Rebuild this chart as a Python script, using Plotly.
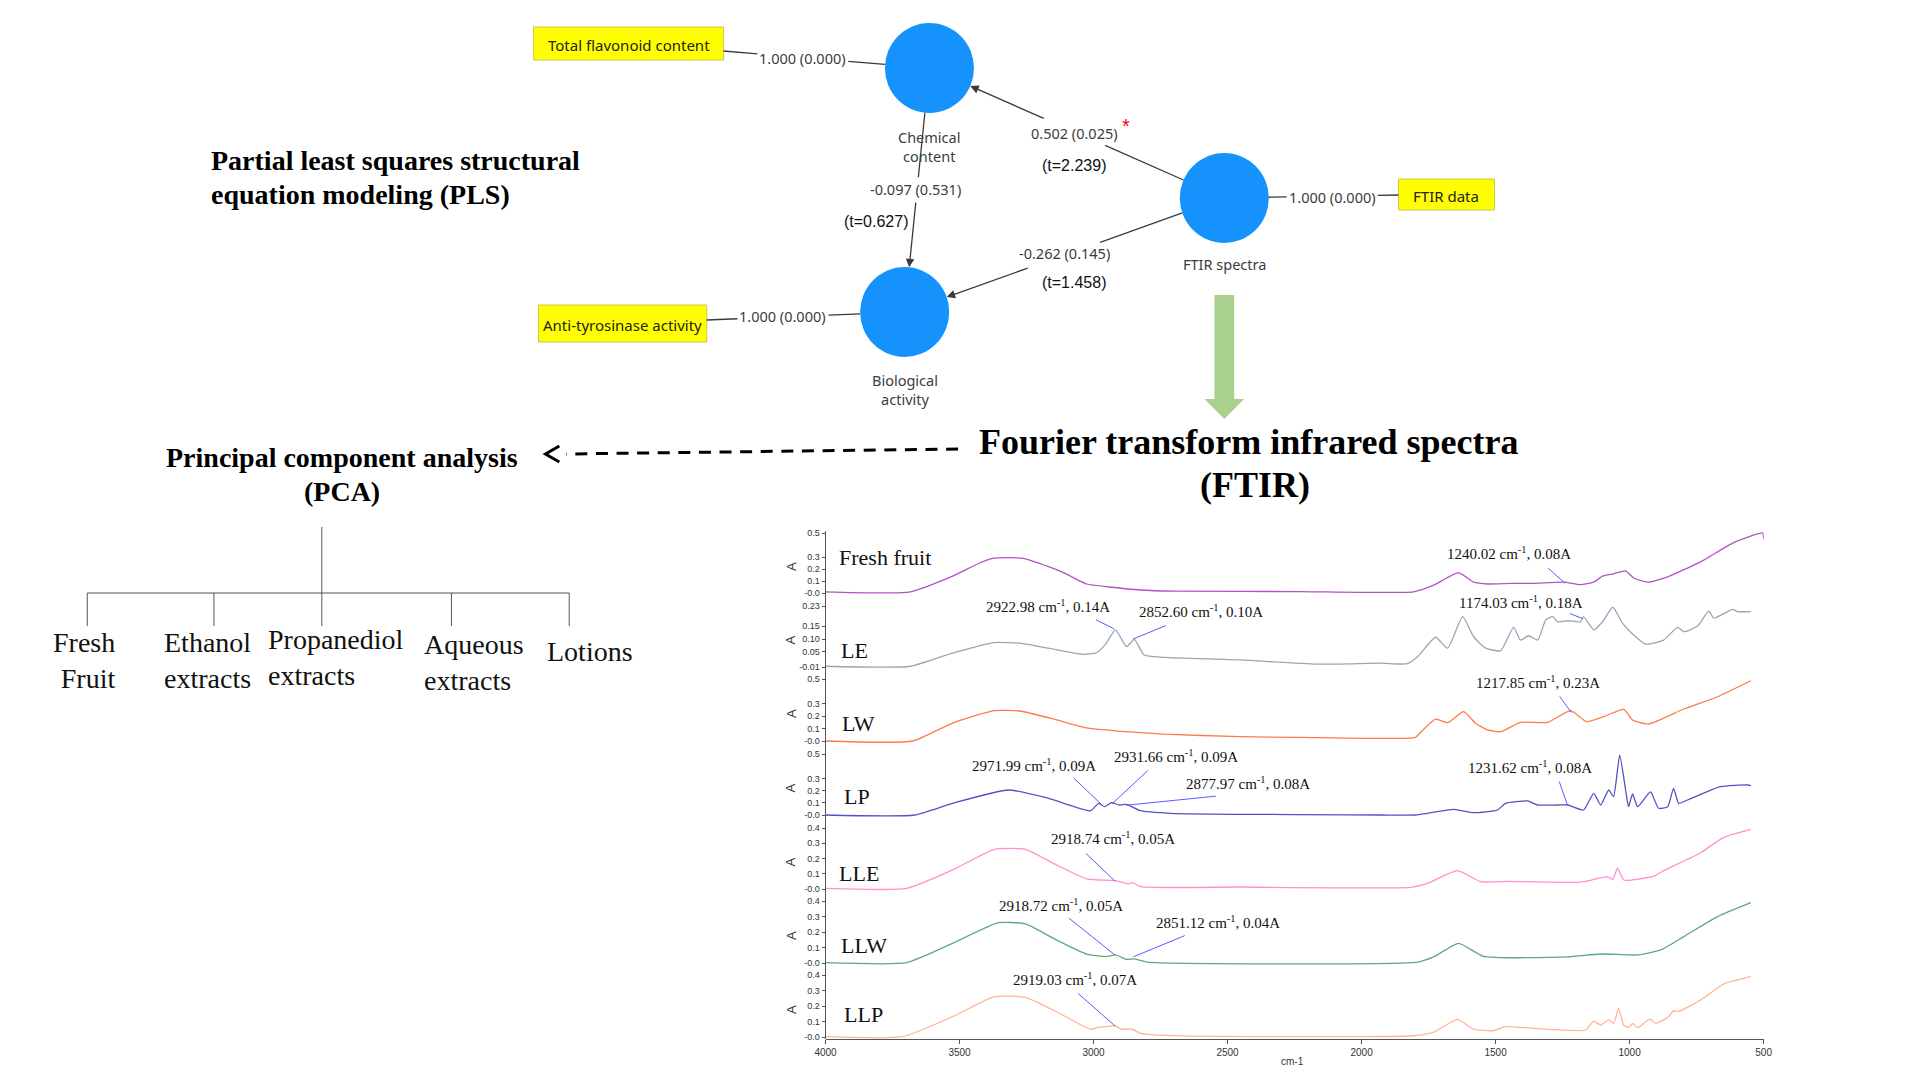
"""
PLS-SEM path model, PCA tree and stacked FTIR spectra
"""
import plotly.graph_objects as go

W, H = 1920, 1080

# ---------------- FTIR spectra (cm-1, absorbance A) ----------------
FRESH_FRUIT_WN = [4000, 3683, 3526, 3425, 3370, 3268, 3168, 3112, 3026, 2940, 2825, 2698, 2228, 1806,
                  1731, 1638, 1582, 1530, 1444, 1358, 1246, 1183, 1134, 1101, 1060, 1015, 985, 933,
                  858, 735, 612, 504, 500]
FRESH_FRUIT_A = [0.01, 0.01, 0.14, 0.25, 0.29, 0.29, 0.22, 0.17, 0.075, 0.05, 0.025, 0.015, 0.012, 0.01,
                 0.065, 0.17, 0.09, 0.075, 0.08, 0.08, 0.09, 0.07, 0.09, 0.14, 0.16, 0.185, 0.125, 0.09,
                 0.135, 0.26, 0.42, 0.5, 0.45]

LE_WN = [4000, 3683, 3526, 3370, 3269, 3168, 3041, 2989, 2955, 2918, 2877, 2848, 2811, 2739, 2455,
         2168, 1929, 1829, 1791, 1724, 1679, 1623, 1582, 1537, 1481, 1433, 1407, 1377, 1343, 1313,
         1287, 1269, 1230, 1183, 1172, 1134, 1101, 1063, 1026, 985, 940, 873, 821, 798, 746, 705,
         686, 616, 597, 548]
LE_A = [-0.007, -0.007, 0.045, 0.086, 0.083, 0.064, 0.040, 0.046, 0.080, 0.136, 0.070, 0.099, 0.037,
        0.028, 0.018, 0.001, 0.005, 0.003, 0.030, 0.107, 0.064, 0.188, 0.109, 0.064, 0.054, 0.146,
        0.096, 0.113, 0.096, 0.175, 0.188, 0.168, 0.172, 0.168, 0.188, 0.136, 0.168, 0.225, 0.162,
        0.116, 0.080, 0.096, 0.146, 0.129, 0.151, 0.211, 0.182, 0.217, 0.208, 0.208]

LW_WN = [4000, 3675, 3526, 3370, 3269, 3138, 3026, 2910, 2739, 2455, 2228, 1799, 1780, 1724, 1679,
         1619, 1575, 1530, 1481, 1407, 1306, 1220, 1160, 1097, 1022, 989, 929, 798, 672, 548]
LW_A = [0.0, 0.0, 0.145, 0.245, 0.24, 0.17, 0.105, 0.08, 0.056, 0.035, 0.03, 0.03, 0.07, 0.177, 0.148,
        0.237, 0.143, 0.089, 0.075, 0.151, 0.151, 0.245, 0.156, 0.196, 0.255, 0.169, 0.137, 0.258,
        0.357, 0.486]

LP_WN = [4000, 3668, 3526, 3317, 3168, 3011, 2981, 2959, 2933, 2903, 2877, 2825, 2713, 1929, 1799,
         1754, 1657, 1582, 1493, 1463, 1381, 1343, 1269, 1231, 1172, 1134, 1108, 1078, 1060, 1037,
         1015, 1004, 989, 970, 922, 892, 858, 836, 817, 784, 661, 560, 548]
LP_A = [0.0, 0.0, 0.096, 0.205, 0.137, 0.035, 0.096, 0.068, 0.101, 0.082, 0.087, 0.035, 0.014, 0.0,
        0.0, 0.014, 0.046, 0.019, 0.041, 0.096, 0.115, 0.082, 0.082, 0.082, 0.041, 0.178, 0.082,
        0.205, 0.150, 0.49, 0.205, 0.068, 0.172, 0.068, 0.19, 0.055, 0.068, 0.219, 0.096, 0.123,
        0.232, 0.246, 0.24]

LLE_WN = [4000, 3698, 3526, 3370, 3254, 3138, 3026, 2981, 2918, 2869, 2855, 2825, 2455, 1817, 1754,
          1642, 1556, 1455, 1183, 1082, 1063, 1045, 1022, 910, 873, 735, 649, 548]
LLE_A = [0.004, 0.004, 0.125, 0.26, 0.26, 0.157, 0.066, 0.059, 0.055, 0.033, 0.042, 0.015, 0.013,
         0.011, 0.037, 0.12, 0.048, 0.05, 0.045, 0.081, 0.063, 0.136, 0.059, 0.085, 0.12, 0.238,
         0.339, 0.391]

LLW_WN = [4000, 3698, 3526, 3355, 3254, 3138, 3026, 2955, 2918, 2877, 2848, 2799, 1791, 1731, 1638,
          1545, 1231, 1108, 970, 884, 798, 672, 548]
LLW_A = [0.002, 0.002, 0.127, 0.26, 0.252, 0.148, 0.058, 0.041, 0.052, 0.024, 0.026, 0.006, 0.006,
         0.039, 0.127, 0.043, 0.039, 0.058, 0.052, 0.084, 0.17, 0.299, 0.389]

LLP_WN = [4000, 3713, 3526, 3370, 3254, 3138, 3011, 2981, 2918, 2896, 2855, 2825, 2668, 1806, 1731,
          1642, 1582, 1507, 1463, 1358, 1164, 1134, 1108, 1078, 1060, 1041, 1022, 1004, 989, 970,
          925, 903, 858, 836, 817, 735, 649, 548]
LLP_A = [0.002, 0.002, 0.131, 0.26, 0.256, 0.163, 0.05, 0.062, 0.071, 0.05, 0.05, 0.024, 0.007,
         0.008, 0.032, 0.114, 0.05, 0.041, 0.067, 0.056, 0.045, 0.102, 0.077, 0.111, 0.088, 0.185,
         0.076, 0.062, 0.087, 0.06, 0.115, 0.089, 0.126, 0.169, 0.165, 0.239, 0.342, 0.389]

SAMPLES = ["Fresh fruit", "LE", "LW", "LP", "LLE", "LLW", "LLP"]
SPECTRA_WN = [FRESH_FRUIT_WN, LE_WN, LW_WN, LP_WN, LLE_WN, LLW_WN, LLP_WN]
SPECTRA_A = [FRESH_FRUIT_A, LE_A, LW_A, LP_A, LLE_A, LLW_A, LLP_A]

# tick labels of each stacked panel (as printed)
Y_TICKS = [[0, 0.1, 0.2, 0.3, 0.5], [-0.01, 0.05, 0.10, 0.15, 0.23], [0, 0.1, 0.2, 0.3, 0.5],
           [0, 0.1, 0.2, 0.3, 0.5], [0, 0.1, 0.2, 0.3, 0.4], [0, 0.1, 0.2, 0.3, 0.4],
           [0, 0.1, 0.2, 0.3, 0.4]]
Y_TICKTEXT = [["-0.0", "0.1", "0.2", "0.3", "0.5"], ["-0.01", "0.05", "0.10", "0.15", "0.23"],
              ["-0.0", "0.1", "0.2", "0.3", "0.5"], ["-0.0", "0.1", "0.2", "0.3", "0.5"],
              ["-0.0", "0.1", "0.2", "0.3", "0.4"], ["-0.0", "0.1", "0.2", "0.3", "0.4"],
              ["-0.0", "0.1", "0.2", "0.3", "0.4"]]
X_TICKS = [4000, 3500, 3000, 2500, 2000, 1500, 1000, 500]

# labelled peaks
PEAK_SAMPLE = ["Fresh fruit", "LE", "LE", "LE", "LW", "LP", "LP", "LP", "LP", "LLE", "LLW", "LLW", "LLP"]
PEAK_WN = [1240.02, 2922.98, 2852.60, 1174.03, 1217.85, 2971.99, 2931.66, 2877.97, 1231.62,
           2918.74, 2918.72, 2851.12, 2919.03]
PEAK_A = [0.08, 0.14, 0.10, 0.18, 0.23, 0.09, 0.09, 0.08, 0.08, 0.05, 0.05, 0.04, 0.07]

# ---------------- PLS-SEM model ----------------
CONSTRUCTS = ["Chemical content", "Biological activity", "FTIR spectra"]
INDICATORS = ["Total flavonoid content", "Anti-tyrosinase activity", "FTIR data"]
LOADINGS = [1.000, 1.000, 1.000]
LOADING_P = [0.000, 0.000, 0.000]
PATH_FROM = ["FTIR spectra", "FTIR spectra", "Chemical content"]
PATH_TO = ["Chemical content", "Biological activity", "Biological activity"]
PATH_COEF = [0.502, -0.262, -0.097]
PATH_P = [0.025, 0.145, 0.531]
PATH_T = [2.239, 1.458, 0.627]

PCA_GROUPS = ["Fresh<br>Fruit", "Ethanol<br>extracts", "Propanediol<br>extracts",
              "Aqueous<br>extracts", "Lotions"]

# ---------------- layout positions (pixels) ----------------
NODE_XY = {"Chemical content": (920, 60), "Biological activity": (895, 304), "FTIR spectra": (1218, 190)}
NODE_R = 45
NODE_LABEL_Y = {"Chemical content": 138, "Biological activity": 381, "FTIR spectra": 256}
BOX_RECT = [(520, 19, 712, 52), (525, 297, 695, 334), (1394, 171, 1491, 202)]
BOX_LINK = [(712, 43), (695, 312), (1394, 187)]
LOAD_LABEL_XY = [(792, 50), (772, 308), (1327, 189)]
PATH_LABEL_XY = [(1067, 125), (1056, 245), (906, 181)]
PATH_T_XY = [(1066, 157), (1066, 274), (866, 213)]
PATH_GAP = [33, 38, 12]

PANEL_PX = [(525, 585), (598, 659), (671, 733), (746, 807), (820, 881), (893, 955), (967, 1029)]
PANEL_LABEL_XY = [(827, 549), (829, 642), (830, 715), (832, 788), (827, 865), (829, 937), (832, 1006)]
PEAK_LABEL_XY = [(1506, 545), (1040, 598), (1194, 603), (1518, 594), (1535, 674), (1026, 757),
                 (1169, 748), (1242, 775), (1527, 759), (1106, 830), (1053, 897), (1212, 914),
                 (1067, 971)]
PEAK_LEADER_XY = [(1544, 559), (1087, 611), (1160, 617), (1566, 605), (1556, 687), (1065, 769),
                  (1142, 761), (1210, 788), (1556, 772), (1077, 844), (1060, 909), (1179, 927),
                  (1069, 984)]
X_LEFT, X_RIGHT, X_AXIS_Y = 815, 1763, 1031

TREE_X = [69, 197, 306, 437, 556]
TREE_Y = (519, 585, 618)
GROUP_XY = [(99, 652, "right"), (145, 652, "left"), (250, 649, "left"), (407, 654, "left"),
            (532, 643, "left")]

SERIF = "Liberation Serif, Times New Roman, serif"
SANS = "Noto Sans, Open Sans, sans-serif"
ARIAL = "Liberation Sans, Arial, sans-serif"
COLORS = ["#b452c6", "#98a6b6", "#ff7a4d", "#5252c2", "#ff8fd0", "#5fa781", "#ffb495"]
LINE = "#3a3a3a"


def wn_px(wn):
    return X_LEFT + (4000 - wn) * (X_RIGHT - X_LEFT) / 3500.0


def a_px(i, a):
    top, bot = PANEL_PX[i]
    lo, hi = Y_TICKS[i][0], Y_TICKS[i][-1]
    return bot - (a - lo) / (hi - lo) * (bot - top)


def split_at(p0, p1, c, half):
    """Split segment p0-p1 around the projection of point c, leaving a gap."""
    dx, dy = p1[0] - p0[0], p1[1] - p0[1]
    L = (dx * dx + dy * dy) ** 0.5
    t = ((c[0] - p0[0]) * dx + (c[1] - p0[1]) * dy) / (L * L)
    ta, tb = t - half / L, t + half / L
    a = (p0[0] + dx * ta, p0[1] + dy * ta)
    b = (p0[0] + dx * tb, p0[1] + dy * tb)
    return a, b


def edge(center, toward, r=NODE_R):
    dx, dy = toward[0] - center[0], toward[1] - center[1]
    L = (dx * dx + dy * dy) ** 0.5
    return (center[0] + dx / L * r, center[1] + dy / L * r)


fig = go.Figure()
shapes = []
annotations = []


def text(x, y, s, size, family=SANS, color="#3c3c3c", xanchor="center", align="center", **kw):
    annotations.append(dict(x=x, y=y, xref="x", yref="y", text=s, showarrow=False,
                            font=dict(family=family, size=size, color=color),
                            xanchor=xanchor, yanchor="middle", align=align, **kw))


def seg(p, q, color=LINE, width=1.3, dash=None):
    shapes.append(dict(type="line", xref="x", yref="y", x0=p[0], y0=p[1], x1=q[0], y1=q[1],
                       line=dict(color=color, width=width, dash=dash)))


# invisible trace so the pixel canvas axes exist
fig.add_trace(go.Scatter(x=[0], y=[0], mode="markers", marker=dict(opacity=0),
                         hoverinfo="skip", showlegend=False))

# ---------------- spectra ----------------
layout_axes = {}
for i, name in enumerate(SAMPLES):
    top, bot = PANEL_PX[i]
    lo, hi = Y_TICKS[i][0], Y_TICKS[i][-1]
    pad = 5
    k = (hi - lo) / (bot - top)
    ax_id = i + 2
    layout_axes[f"yaxis{ax_id}"] = dict(
        domain=[1 - (bot + pad) / H, 1 - (top - pad) / H],
        range=[lo - pad * k, hi + pad * k], anchor="x2",
        tickvals=Y_TICKS[i], ticktext=Y_TICKTEXT[i], ticks="outside", ticklen=3,
        tickcolor="#555", tickfont=dict(family=ARIAL, size=9, color="#333"),
        showgrid=False, zeroline=False, showline=False, fixedrange=True)
    fig.add_trace(go.Scatter(
        x=SPECTRA_WN[i], y=SPECTRA_A[i], xaxis="x2", yaxis=f"y{ax_id}", mode="lines",
        line=dict(color=COLORS[i], width=1.3, shape="spline", smoothing=0.5),
        hoverinfo="skip", showlegend=False))
    lx, ly = PANEL_LABEL_XY[i]
    text(lx, ly, name, 22, family=SERIF, color="#111", xanchor="left")
    text(780, (top + bot) / 2 + 3, "A", 13, family=ARIAL, color="#333", textangle=-90)

# peak labels with blue leader lines
for s, wn, a, (lx, ly), (sx, sy) in zip(PEAK_SAMPLE, PEAK_WN, PEAK_A, PEAK_LABEL_XY, PEAK_LEADER_XY):
    i = SAMPLES.index(s)
    annotations.append(dict(
        x=wn, y=a, xref="x2", yref=f"y{i + 2}", ax=sx - wn_px(wn), ay=sy - a_px(i, a),
        text="", showarrow=True, arrowhead=0, arrowwidth=1, arrowcolor="#5a5aff", standoff=0))
    text(lx, ly, f"{wn:.2f} cm<sup>-1</sup>, {a:.2f}A", 15, family=SERIF, color="#111")

seg((X_LEFT, PANEL_PX[0][0] - 2), (X_LEFT, X_AXIS_Y), color="#555", width=1)
text(1287, 1053, "cm-1", 10, family=ARIAL, color="#333")

# ---------------- PLS-SEM diagram ----------------
for i, ind in enumerate(INDICATORS):
    x0, y0, x1, y1 = BOX_RECT[i]
    shapes.append(dict(type="rect", xref="x", yref="y", x0=x0, y0=y0, x1=x1, y1=y1,
                       fillcolor="#ffff00", line=dict(color="#c9c94a", width=1)))
    text((x0 + x1) / 2, (y0 + y1) / 2 + 1, ind, 15, color="#222")
    c = NODE_XY[CONSTRUCTS[i]]
    p0 = BOX_LINK[i]
    p1 = edge(c, p0)
    a, b = split_at(p0, p1, LOAD_LABEL_XY[i], 46)
    seg(p0, a)
    seg(b, p1)
    text(LOAD_LABEL_XY[i][0], LOAD_LABEL_XY[i][1], f"{LOADINGS[i]:.3f} ({LOADING_P[i]:.3f})", 14.5)

for i in range(len(PATH_COEF)):
    cs, ct = NODE_XY[PATH_FROM[i]], NODE_XY[PATH_TO[i]]
    p0, p1 = edge(cs, ct), edge(ct, cs)
    a, b = split_at(p0, p1, PATH_LABEL_XY[i], PATH_GAP[i])
    seg(p0, a)
    annotations.append(dict(x=p1[0], y=p1[1], ax=b[0], ay=b[1], xref="x", yref="y",
                            axref="x", ayref="y", text="", showarrow=True, arrowhead=2,
                            arrowsize=1.3, arrowwidth=1.3, arrowcolor=LINE, standoff=0))
    text(PATH_LABEL_XY[i][0], PATH_LABEL_XY[i][1], f"{PATH_COEF[i]:.3f} ({PATH_P[i]:.3f})", 14.5)
    text(PATH_T_XY[i][0], PATH_T_XY[i][1], f"(t={PATH_T[i]:.3f})", 16, family=ARIAL, color="#111")
    if PATH_P[i] < 0.05:
        text(PATH_LABEL_XY[i][0] + 52, PATH_LABEL_XY[i][1] - 7, "*", 20, family=ARIAL, color="#ff0000")

for name in CONSTRUCTS:
    cx, cy = NODE_XY[name]
    shapes.append(dict(type="circle", xref="x", yref="y", x0=cx - NODE_R, x1=cx + NODE_R,
                       y0=cy - NODE_R, y1=cy + NODE_R, fillcolor="#1592fb", line=dict(width=0),
                       layer="below"))
    label = "<br>".join(name.split(" ")) if name != "FTIR spectra" else name
    text(cx, NODE_LABEL_Y[name], label, 14.5)

# green arrow from the FTIR construct down to the spectra
shapes.append(dict(type="path", xref="x", yref="y",
                   path="M 1208 287 L 1228 287 L 1228 391 L 1238 391 L 1218 411 L 1198 391 L 1208 391 Z",
                   fillcolor="#a9d18e", line=dict(width=0)))

# ---------------- titles ----------------
text(192, 152, "<b>Partial least squares structural</b>", 28, family=SERIF, color="#000", xanchor="left")
text(192, 186, "<b>equation modeling (PLS)</b>", 28, family=SERIF, color="#000", xanchor="left")
text(326, 449, "<b>Principal component analysis</b>", 28, family=SERIF, color="#000")
text(326, 483, "<b>(PCA)</b>", 28, family=SERIF, color="#000")
text(1243, 434, "<b>Fourier transform infrared spectra</b>", 36, family=SERIF, color="#000")
text(1249, 477, "<b>(FTIR)</b>", 36, family=SERIF, color="#000")

# dashed arrow FTIR -> PCA
seg((949, 441), (553, 446), color="#000", width=3, dash="12px,8.6px")
shapes.append(dict(type="path", xref="x", yref="y", path="M 546 438 L 532 446 L 546 454",
                   line=dict(color="#000", width=3)))

# PCA tree
seg((TREE_X[2], TREE_Y[0]), (TREE_X[2], TREE_Y[1]), color="#555", width=1)
seg((TREE_X[0], TREE_Y[1]), (TREE_X[-1], TREE_Y[1]), color="#555", width=1)
for x in TREE_X:
    seg((x, TREE_Y[1]), (x, TREE_Y[2]), color="#555", width=1)
for g, (x, y, al) in zip(PCA_GROUPS, GROUP_XY):
    text(x, y, g, 28, family=SERIF, color="#111", xanchor=al, align=al)

fig.update_layout(
    width=W, height=H, margin=dict(l=0, r=0, t=0, b=0),
    paper_bgcolor="white", plot_bgcolor="rgba(0,0,0,0)", showlegend=False,
    xaxis=dict(range=[0, W], domain=[0, 1], visible=False, fixedrange=True),
    yaxis=dict(range=[H, 0], domain=[0, 1], visible=False, fixedrange=True),
    xaxis2=dict(domain=[X_LEFT / W, X_RIGHT / W], range=[4000, 500], anchor="free",
                position=1 - X_AXIS_Y / H, tickvals=X_TICKS, ticks="outside", ticklen=4,
                tickcolor="#555", showline=True, linecolor="#555", linewidth=1,
                tickfont=dict(family=ARIAL, size=10, color="#333"),
                showgrid=False, zeroline=False, fixedrange=True),
    shapes=shapes, annotations=annotations,
    **layout_axes,
)

fig.write_html("out.html", config={"displayModeBar": False})
